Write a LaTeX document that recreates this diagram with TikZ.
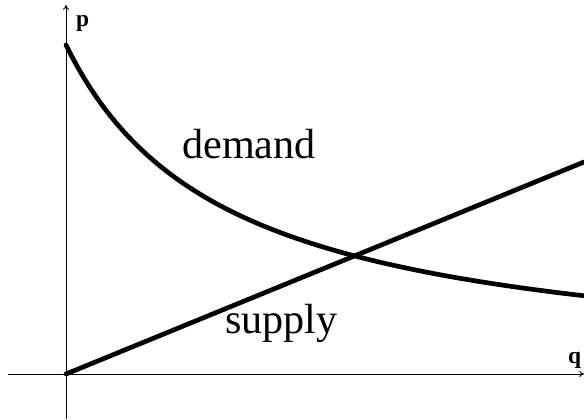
\documentclass[tikz,border=0pt]{standalone}
\usepackage{fontspec}
\setmainfont{Liberation Serif}
\usepackage{tikz}
\usetikzlibrary{arrows.meta, positioning, calc}

\tikzset{
  axis/.style={line width=0.8pt, -{To[length=4pt, width=5pt]}},
  curve/.style={line width=4pt, line cap=round},
  axislabel/.style={font=\fontsize{20}{22}\selectfont\bfseries, anchor=base west, inner sep=0pt},
  curvelabel/.style={font=\fontsize{36}{40}\selectfont, anchor=base west, inner sep=0pt}
}

\begin{document}
\begin{tikzpicture}[x=0.3cm, y=0.3cm]
          \useasboundingbox (-6.6, -4.5) rectangle (51.8, 37.4);
          \coordinate (O) at (0, 0);
          \coordinate (pbot) at (0, -4.5);
          \coordinate (ptop) at (0, 36.9);
          \coordinate (qleft) at (-5.8, 0);
          \coordinate (qright) at (51.8, 0);
          \coordinate (supplyend) at (51.8, 21.2);
          \draw[axis] (pbot) -- (ptop);
          \draw[axis] (qleft) -- (qright);
          \node[axislabel] (plabel) at (1.0, 34.7) {p};
          \node[axislabel] (qlabel) at (50.2, 1.1) {q};
          \draw[curve] plot[domain=0:51.8, samples=80, smooth] (\x, {531.7/(\x+16.16)});
          \draw[curve] (O) -- (supplyend);
          \node[curvelabel] (demand) at (11.6, 21.6) {demand};
          \node[curvelabel] (supply) at (15.9, 4.1) {supply};
        \end{tikzpicture}
\end{document}
